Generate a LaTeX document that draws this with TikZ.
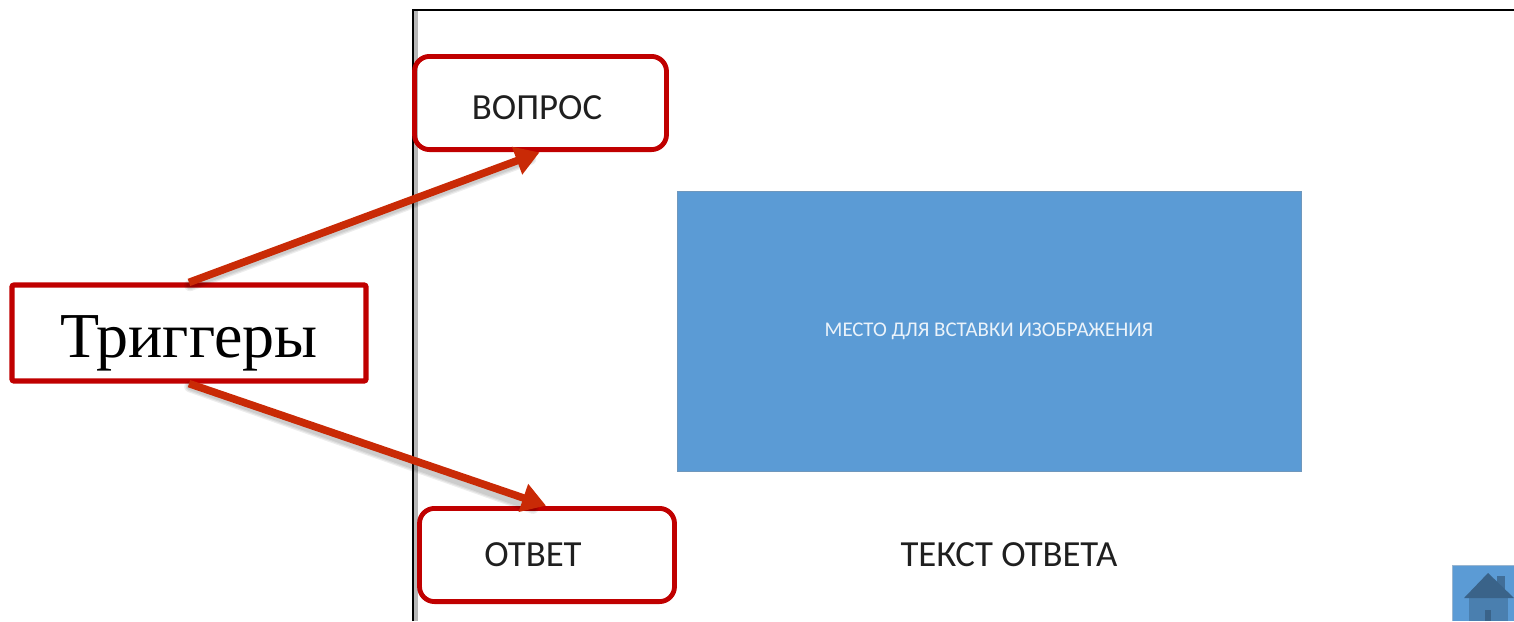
\documentclass[tikz,border=0pt]{standalone}
\usepackage{fontspec}
\setmainfont{Liberation Serif}
\newfontfamily\calibrifont{Carlito}
\definecolor{boxred}{HTML}{C00000}
\definecolor{arrowred}{HTML}{C92A06}
\definecolor{slideblue}{HTML}{5B9BD5}
\definecolor{slideedge}{HTML}{6F97BC}
\definecolor{housedark}{HTML}{3A6389}
\definecolor{housemid}{HTML}{4A7FAF}
\usetikzlibrary{arrows.meta}
\tikzset{
  triggerbox/.style={draw=boxred,line width=2.4pt,rounded corners=7.5pt,minimum width=126pt,minimum height=46.6pt,inner sep=0pt},
  labelbox/.style={draw=boxred,line width=2.6pt,rounded corners=1pt,fill=white,minimum width=177pt,minimum height=48pt,inner sep=0pt,font=\fontsize{32}{38}\selectfont},
  pointer/.style={draw=arrowred,line width=3.8pt,-{Triangle[length=12pt,width=14pt,fill=arrowred]},shorten >=0.5pt},
  pointershadow/.style={draw=black,opacity=0.07,line cap=round},
  slidetext/.style={font=\calibrifont\fontsize{18.4}{22}\selectfont,text=black!88,inner sep=0pt}
}
\begin{document}
\begin{tikzpicture}[x=0.5pt,y=-0.5pt]
\useasboundingbox (0,0) rectangle (1514,621);
% slide frame
\fill[black!28] (414,11) rectangle (418,621);
\draw[black,line width=1pt] (412.5,621) -- (412.5,9.5) -- (1514,9.5);
% picture placeholder
\node[draw=slideedge,line width=0.5pt,fill=slideblue,minimum width=312pt,minimum height=140pt,inner sep=0pt,anchor=north west,text=white!88!slideblue,font=\calibrifont\fontsize{10.45}{12}\selectfont] (picture) at (676.5,191) {МЕСТО ДЛЯ ВСТАВКИ ИЗОБРАЖЕНИЯ};
\node[slidetext] (answertext) at (1009,555) {ТЕКСТ ОТВЕТА};
% home button
\fill[slideblue] (1452,565) rectangle (1514,621);
\draw[slideedge!70!white,line width=0.6pt] (1452.5,621) -- (1452.5,565.5) -- (1514,565.5);
\fill[housedark!80!slideblue] (1497,576) rectangle (1505,592);
\fill[housemid] (1469,598) rectangle (1508,621);
\fill[housedark] (1464,598) -- (1488,573) -- (1514,598) -- cycle;
\fill[housedark] (1485,610) rectangle (1491,621);
% trigger boxes
\node[triggerbox] (question) at (540.5,103) {};
\node[triggerbox,minimum width=127.5pt] (answer) at (547,555) {};
\node[slidetext] (questionlabel) at (537,108) {ВОПРОС};
\node[slidetext] (answerlabel) at (533,555) {ОТВЕТ};
% label
\node[labelbox] (triggers) at (189,333) {\raisebox{-12pt}[0pt][0pt]{Триггеры}};
% shadows and connectors
\foreach \w in {3.4,4.6,5.8}{
  \draw[pointershadow,line width=\w pt] ([shift={(1,3)}]triggers.north) -- ([shift={(-10,7)}]question.south);
  \draw[pointershadow,line width=\w pt] ([shift={(1,3)}]triggers.south) -- ([shift={(-14,2)}]answer.north);
}
\draw[pointer] (triggers.north) -- (question.south);
\draw[pointer] (triggers.south) -- (answer.north);
\end{tikzpicture}
\end{document}
